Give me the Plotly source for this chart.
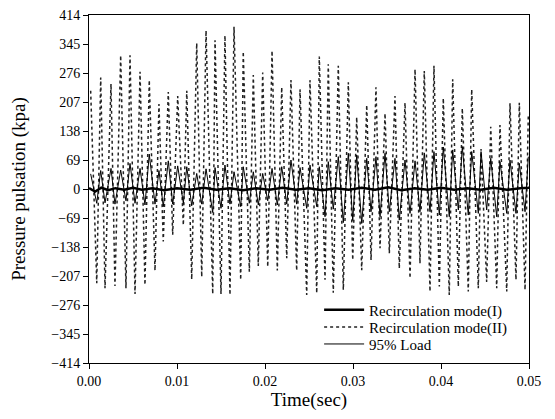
import plotly.graph_objects as go

# time (s) of each crest / trough
peak_t = [0.00019, 0.00133, 0.00250, 0.00360, 0.00466, 0.00580, 0.00685, 0.00795,
          0.00901, 0.01008, 0.01111, 0.01224, 0.01330, 0.01432, 0.01545, 0.01648,
          0.01753, 0.01867, 0.01974, 0.02080, 0.02190, 0.02295, 0.02398, 0.02511,
          0.02617, 0.02719, 0.02833, 0.02947, 0.03042, 0.03156, 0.03261, 0.03364,
          0.03477, 0.03591, 0.03705, 0.03810, 0.03920, 0.04026, 0.04133, 0.04242,
          0.04349, 0.04455, 0.04565, 0.04670, 0.04784, 0.04890, 0.04992]
trough_t = [0.00088, 0.00182, 0.00295, 0.00420, 0.00523, 0.00636, 0.00750, 0.00844,
            0.00951, 0.01072, 0.01167, 0.01281, 0.01406, 0.01500, 0.01602, 0.01724,
            0.01822, 0.01924, 0.02031, 0.02140, 0.02247, 0.02360, 0.02474, 0.02588,
            0.02682, 0.02776, 0.02890, 0.02997, 0.03099, 0.03205, 0.03307, 0.03413,
            0.03526, 0.03648, 0.03761, 0.03875, 0.03981, 0.04094, 0.04197, 0.04310,
            0.04424, 0.04519, 0.04633, 0.04747, 0.04852, 0.04955]

# Recirculation mode(II)
mode2_peaks = [234, 265, 250, 318, 318, 279, 259, 202, 231, 221, 234, 347, 377, 354,
               365, 386, 327, 271, 277, 329, 242, 259, 237, 259, 315, 297, 293, 254,
               171, 200, 242, 180, 221, 205, 285, 281, 293, 216, 261, 192, 237, 95,
               148, 152, 204, 205, 176]
mode2_troughs = [-224, -236, -231, -236, -250, -228, -194, -125, -109, -86, -215, -209,
                 -250, -250, -252, -216, -197, -183, -185, -194, -165, -194, -252, -248,
                 -216, -247, -240, -169, -193, -169, -141, -153, -189, -212, -177, -244,
                 -232, -252, -232, -244, -236, -221, -236, -244, -216, -240]

# 95% Load
load_peaks = [36, 44, 49, 45, 61, 49, 83, 44, 67, 55, 53, 37, 48, 51, 57, 41, 53, 41,
              37, 49, 53, 69, 51, 57, 53, 65, 77, 85, 81, 73, 77, 85, 73, 69, 67, 86,
              89, 100, 93, 101, 89, 89, 73, 65, 69, 61, 77]
load_troughs = [-34, -33, -36, -28, -34, -38, -36, -42, -36, -34, -40, -36, -56, -46,
                -36, -42, -34, -38, -28, -38, -36, -36, -46, -42, -66, -48, -80, -75,
                -82, -54, -66, -54, -74, -58, -54, -54, -62, -66, -50, -62, -58, -50,
                -66, -58, -58, -54]

# Recirculation mode(I): nearly flat line
mode1_t = [0.0, 0.0007, 0.0014, 0.0022, 0.0030, 0.0040, 0.0050, 0.0060, 0.0072, 0.0085,
           0.0100, 0.0115, 0.0130, 0.0145, 0.0160, 0.0175, 0.0190, 0.0205, 0.0220,
           0.0235, 0.0250, 0.0265, 0.0280, 0.0295, 0.0310, 0.0325, 0.0340, 0.0355,
           0.0370, 0.0385, 0.0400, 0.0415, 0.0430, 0.0445, 0.0460, 0.0475, 0.0490, 0.0500]
mode1_v = [2, -6, 3, -3, 2, -2, 3, -2, 2, -3, 2, -2, 3, -2, 2, -3, 2, -2, 3, -2, 2, -3,
           2, -2, 3, -2, 4, -3, 2, -2, 3, -2, 2, -2, 3, -2, 2, 3]

x_ticks = [0.00, 0.01, 0.02, 0.03, 0.04, 0.05]
y_ticks = [-414, -345, -276, -207, -138, -69, 0, 69, 138, 207, 276, 345, 414]


def zigzag(peaks_t, peaks_v, troughs_t, troughs_v):
    pts = sorted(list(zip(peaks_t, peaks_v)) + list(zip(troughs_t, troughs_v)))
    return [p[0] for p in pts], [p[1] for p in pts]


m2_x, m2_y = zigzag(peak_t, mode2_peaks, trough_t, mode2_troughs)
ld_x, ld_y = zigzag(peak_t, load_peaks, trough_t, load_troughs)

fig = go.Figure()
# dotted behind, then load, then mode(I) on top; each in its own legend box
fig.add_trace(go.Scatter(x=m2_x, y=m2_y, mode="lines", name="Recirculation mode(II)",
                         line=dict(color="#222222", width=1.5, dash="dot"),
                         legend="legend2"))
fig.add_trace(go.Scatter(x=ld_x, y=ld_y, mode="lines", name="95% Load",
                         line=dict(color="black", width=1), legend="legend3"))
fig.add_trace(go.Scatter(x=mode1_t, y=mode1_v, mode="lines", name="Recirculation mode(I)",
                         line=dict(color="black", width=2.5), legend="legend"))

serif = "Liberation Serif, Times New Roman, serif"
leg = dict(x=0.523, xanchor="left", yanchor="middle", bgcolor="rgba(0,0,0,0)",
           font=dict(family=serif, size=15, color="black"), itemwidth=40,
           borderwidth=0)
fig.update_layout(
    width=539, height=403,
    margin=dict(l=81, r=18, t=7, b=48),
    paper_bgcolor="white", plot_bgcolor="white",
    font=dict(family=serif, size=14, color="black"),
    showlegend=True,
    legend=dict(leg, y=0.152),
    legend2=dict(leg, y=0.103),
    legend3=dict(leg, y=0.054),
)
fig.update_xaxes(range=[0, 0.05], tickvals=x_ticks, tickformat=".2f", automargin=False,
                 ticklabeloverflow="allow",
                 showline=True, linecolor="black", linewidth=1, mirror=True,
                 ticks="outside", ticklen=5, tickcolor="black", showgrid=False,
                 zeroline=False,
                 title=dict(text="Time(sec)", font=dict(size=19), standoff=18))
fig.update_yaxes(range=[-414, 414], tickvals=y_ticks, automargin=False,
                 ticklabeloverflow="allow",
                 showline=True, linecolor="black", linewidth=1, mirror=True,
                 ticks="outside", ticklen=5, tickcolor="black", showgrid=False,
                 zeroline=False,
                 title=dict(text="Pressure pulsation (kpa)", font=dict(size=19), standoff=22))

fig.write_html("out.html")
